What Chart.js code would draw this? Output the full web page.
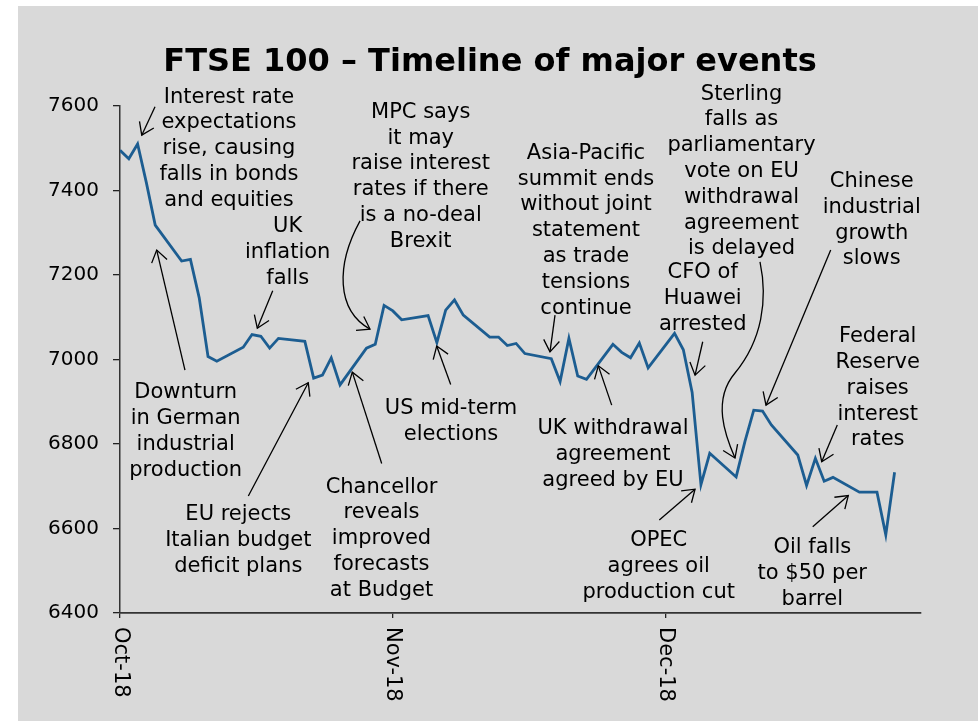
<!DOCTYPE html>
<html>
<head>
<meta charset="utf-8">
<title>FTSE 100 timeline</title>
<script src="https://cdn.jsdelivr.net/npm/chart.js@4.4.0/dist/chart.umd.min.js"></script>
<style>
  html, body { margin: 0; padding: 0; background: #fff; }
  #wrap { position: absolute; left: 18px; top: 6px; width: 960px; height: 715px; background: #d9d9d9; }
</style>
</head>
<body>
<div id="wrap"><canvas id="ftseChart" width="960" height="715"></canvas></div>
<script>
// Daily closes (holidays carry the previous close)
const octDays = ['01','02','03','04','05','08','09','10','11','12','15','16','17','18','19','22','23','24','25','26','29','30','31'];
const octCloses = [7495,7475,7510,7418,7318,7233,7237,7146,7007,6996,7029,7059,7055,7027,7050,7043,6956,6963,7004,6940,7027,7036,7128];
const novDays = ['01','02','05','06','07','08','09','12','13','14','15','16','19','20','21','22','23','26','27','28','29','30'];
const novCloses = [7115,7094,7104,7040,7117,7141,7105,7053,7053,7033,7038,7014,7002,6948,7050,6961,6953,7036,7017,7004,7039,6980];
const decDays = ['03','04','05','06','07','10','11','12','13','14','17','18','19','20','21','24','25','26','27','28'];
const decCloses = [7062,7023,6922,6704,6778,6722,6806,6880,6878,6845,6774,6702,6766,6712,6721,6686,6686,6686,6585,6733];

const tickDates = ['2018-10-01', '2018-11-01', '2018-12-02'];
const tickLabels = ['Oct-18', 'Nov-18', 'Dec-18'];
const axisEndDate = '2018-12-31';
const yMin = 6400, yMax = 7600, yStep = 200;

const chartTitle = 'FTSE 100 \u2013 Timeline of major events';

// Event notes: text anchor and arrows in (day since 1 Oct, index level)
const notes = [
  { lines: ['Interest rate', 'expectations', 'rise, causing', 'falls in bonds', 'and equities'], at: [12.38, 7621],
    arrow: [[3.98, 7598], [2.47, 7531]] },
  { lines: ['Downturn', 'in German', 'industrial', 'production'], at: [7.46, 6921],
    arrow: [[7.38, 6975], [4.17, 7259]] },
  { lines: ['UK', 'inflation', 'falls'], at: [19.05, 7314],
    arrow: [[17.35, 7163], [15.6, 7074]] },
  { lines: ['EU rejects', 'Italian budget', 'deficit plans'], at: [13.44, 6632],
    arrow: [[14.58, 6677], [21.39, 6945]] },
  { lines: ['Chancellor', 'reveals', 'improved', 'forecasts', 'at Budget'], at: [29.71, 6698],
    arrow: [[29.73, 6754], [26.39, 6970]] },
  { lines: ['MPC says', 'it may', 'raise interest', 'rates if there', 'is a no-deal', 'Brexit'], at: [34.16, 7585],
    curve: [[27.27, 7328], [24.54, 7224], [24.54, 7117], [28.4, 7072]] },
  { lines: ['US mid-term', 'elections'], at: [37.61, 6883],
    arrow: [[37.57, 6941], [35.98, 7032]] },
  { lines: ['Asia-Pacific', 'summit ends', 'without joint', 'statement', 'as trade', 'tensions', 'continue'], at: [52.94, 7488],
    arrow: [[49.42, 7105], [48.85, 7018]] },
  { lines: ['UK withdrawal', 'agreement', 'agreed by EU'], at: [56.01, 6836],
    arrow: [[55.86, 6892], [54.34, 6985]] },
  { lines: ['CFO of', 'Huawei', 'arrested'], at: [66.2, 7205],
    arrow: [[66.2, 7042], [65.33, 6963]] },
  { lines: ['Sterling', 'falls as', 'parliamentary', 'vote on EU', 'withdrawal', 'agreement', 'is delayed'], at: [70.61, 7628],
    curve: [[72.71, 7231], [73.62, 7141], [72.94, 7046], [69.87, 6968], [67.26, 6904], [68.73, 6821], [69.87, 6767]] },
  { lines: ['Chinese', 'industrial', 'growth', 'slows'], at: [85.4, 7421],
    arrow: [[80.74, 7259], [73.39, 6892]] },
  { lines: ['Federal', 'Reserve', 'raises', 'interest', 'rates'], at: [86.08, 7054],
    arrow: [[81.49, 6845], [79.72, 6758]] },
  { lines: ['OPEC', 'agrees oil', 'production cut'], at: [61.2, 6571],
    arrow: [[61.27, 6620], [65.33, 6693]] },
  { lines: ['Oil falls', 'to $50 per', 'barrel'], at: [78.65, 6555],
    arrow: [[78.7, 6604], [82.74, 6678]] }
];

const startUTC = Date.UTC(2018, 9, 1);
function dayOffset(iso) {
  const [yy, mm, dd] = iso.split('-').map(Number);
  return (Date.UTC(yy, mm - 1, dd) - startUTC) / 86400000;
}

const points = [];
[['2018-10-', octDays, octCloses], ['2018-11-', novDays, novCloses], ['2018-12-', decDays, decCloses]]
  .forEach(([prefix, days, closes]) => {
    days.forEach((d, i) => points.push({ x: dayOffset(prefix + d), y: closes[i] }));
  });

const FONT = '"DejaVu Sans", Verdana, sans-serif';
const LINE_GAP = 25.8;

function drawHead(ctx, fx, fy, tx, ty) {
  const ang = Math.atan2(ty - fy, tx - fx);
  const len = 14, spread = 0.6;
  ctx.beginPath();
  ctx.moveTo(tx - len * Math.cos(ang - spread), ty - len * Math.sin(ang - spread));
  ctx.lineTo(tx, ty);
  ctx.lineTo(tx - len * Math.cos(ang + spread), ty - len * Math.sin(ang + spread));
  ctx.stroke();
}

const overlayPlugin = {
  id: 'overlay',
  afterDraw(chart) {
    const { ctx, scales: { x, y } } = chart;
    const px = p => [x.getPixelForValue(p[0]), y.getPixelForValue(p[1])];
    ctx.save();
    ctx.fillStyle = '#000';
    ctx.strokeStyle = '#000';

    // title
    ctx.font = 'bold 32px ' + FONT;
    ctx.textAlign = 'center';
    ctx.textBaseline = 'middle';
    ctx.fillText(chartTitle, 472, 57);

    // rotated month labels
    ctx.font = '21px ' + FONT;
    tickDates.forEach((d, i) => {
      const tx = x.getPixelForValue(dayOffset(d));
      ctx.save();
      ctx.translate(tx, chart.chartArea.bottom + 14);
      ctx.rotate(Math.PI / 2);
      ctx.textAlign = 'left';
      ctx.textBaseline = 'middle';
      ctx.fillText(tickLabels[i], 0, 0);
      ctx.restore();
    });

    // notes and arrows
    ctx.font = '21px ' + FONT;
    ctx.textAlign = 'center';
    ctx.textBaseline = 'middle';
    ctx.lineWidth = 1.3;
    notes.forEach(n => {
      const [ax, ay] = px(n.at);
      n.lines.forEach((t, i) => ctx.fillText(t, ax, ay + i * LINE_GAP));
      if (n.arrow) {
        const [fx, fy] = px(n.arrow[0]);
        const [tx, ty] = px(n.arrow[1]);
        ctx.beginPath();
        ctx.moveTo(fx, fy);
        ctx.lineTo(tx, ty);
        ctx.stroke();
        drawHead(ctx, fx, fy, tx, ty);
      }
      if (n.curve) {
        const pts = n.curve.map(px);
        ctx.beginPath();
        ctx.moveTo(pts[0][0], pts[0][1]);
        for (let i = 1; i + 2 < pts.length; i += 3) {
          ctx.bezierCurveTo(pts[i][0], pts[i][1], pts[i + 1][0], pts[i + 1][1], pts[i + 2][0], pts[i + 2][1]);
        }
        ctx.stroke();
        const a = pts[pts.length - 2], b = pts[pts.length - 1];
        drawHead(ctx, a[0], a[1], b[0], b[1]);
      }
    });
    ctx.restore();
  }
};

Chart.defaults.font.family = FONT;
Chart.defaults.color = '#000';

new Chart(document.getElementById('ftseChart').getContext('2d'), {
  type: 'line',
  data: {
    datasets: [{
      label: 'FTSE 100',
      data: points,
      borderColor: '#1c5d91',
      borderWidth: 2.8,
      pointRadius: 0,
      tension: 0,
      fill: false
    }]
  },
  options: {
    responsive: false,
    animation: false,
    layout: { padding: { top: 100, right: 57, left: 0, bottom: 0 } },
    plugins: {
      legend: { display: false },
      tooltip: { enabled: false },
      title: { display: false }
    },
    scales: {
      x: {
        type: 'linear',
        min: 0,
        max: dayOffset(axisEndDate),
        afterBuildTicks: scale => {
          scale.ticks = tickDates.map(d => ({ value: dayOffset(d) }));
        },
        afterFit: scale => { scale.height = 108; },
        ticks: { display: false },
        grid: { drawOnChartArea: false, drawTicks: true, tickLength: 5, color: '#222', lineWidth: 1.3 },
        border: { display: true, color: '#333', width: 1.8 }
      },
      y: {
        min: yMin,
        max: yMax,
        ticks: { stepSize: yStep, padding: 14, font: { size: 20 }, color: '#000', callback: v => String(v) },
        afterFit: scale => { scale.width = 102; },
        grid: { drawOnChartArea: false, drawTicks: true, tickLength: 7, color: '#222', lineWidth: 1.3 },
        border: { display: true, color: '#333', width: 1.5 }
      }
    }
  },
  plugins: [overlayPlugin]
});
</script>
</body>
</html>
